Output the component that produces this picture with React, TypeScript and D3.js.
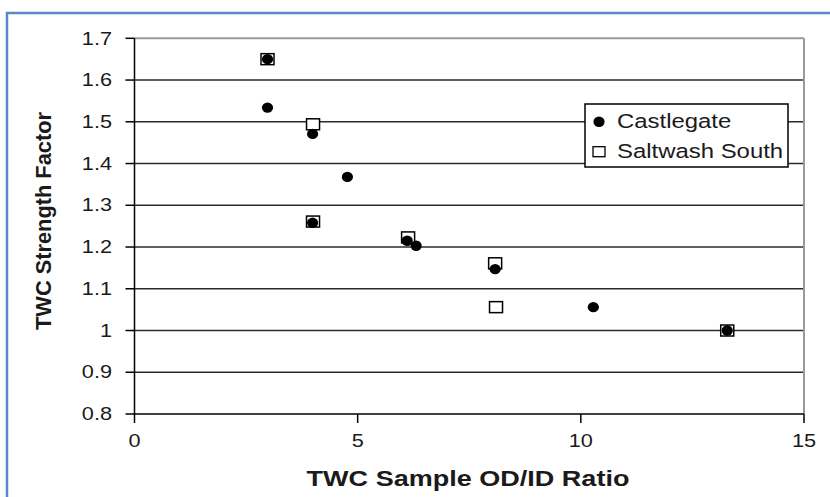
import React from "react";
import * as d3 from "d3";

const castleX = [2.98, 2.98, 3.99, 4.77, 3.99, 6.11, 6.31, 8.08, 10.28, 13.28];
const castleY = [1.65, 1.534, 1.471, 1.368, 1.258, 1.215, 1.203, 1.147, 1.056, 1.0];
const saltX = [2.98, 4.0, 4.0, 6.13, 8.08, 8.1, 13.28];
const saltY = [1.65, 1.494, 1.261, 1.223, 1.161, 1.056, 1.0];
const xTicks = [0, 5, 10, 15];
const yTicks = [0.8, 0.9, 1.0, 1.1, 1.2, 1.3, 1.4, 1.5, 1.6, 1.7];
const seriesNames = ["Castlegate", "Saltwash South"];

const W = 830;
const H = 497;
const FONT = "'Liberation Sans', Arial, sans-serif";
const SX = 1.24;

function SText({ x, y, anchor = "start", size, weight = "normal", rotate = 0, sx = SX, children, fill = "#1a1a1a" }: any) {
  return (
    <g transform={`translate(${x},${y}) scale(${sx},1) rotate(${rotate})`}>
      <text x={0} y={0} textAnchor={anchor} dominantBaseline="central" fontSize={size} fontWeight={weight} fontFamily={FONT} fill={fill}>
        {children}
      </text>
    </g>
  );
}

export default function App() {
  const x = d3.scaleLinear().domain([0, 15]).range([134.5, 804]);
  const y = d3.scaleLinear().domain([0.8, 1.7]).range([414, 38.3]);
  const sqW = 13;
  const sqH = 11;
  const rx = 5.6;
  const ry = 5.2;
  const fmt = (v: number) => (Math.abs(v - 1) < 1e-9 ? "1" : d3.format(".1f")(v));
  return (
    <svg width={W} height={H} style={{ position: "absolute", left: 0, top: 0, background: "#fff" }}>
      <rect x={0} y={0} width={W} height={H} fill="#fff" />
      <rect x={7} y={13} width={W + 20} height={H + 20} fill="none" stroke="#5a87c6" strokeWidth={2.5} />
      {/* gridlines */}
      {yTicks.filter((t) => t > 0.85 && t < 1.65).map((t) => (
        <line key={t} x1={x(0)} x2={x(15)} y1={y(t)} y2={y(t)} stroke="#2b2b2b" strokeWidth={1.4} />
      ))}
      {/* plot border top/right */}
      <line x1={x(0)} x2={x(15)} y1={y(1.7)} y2={y(1.7)} stroke="#9a9a9a" strokeWidth={2} />
      <line x1={x(15)} x2={x(15)} y1={y(1.7)} y2={y(0.8)} stroke="#9a9a9a" strokeWidth={2} />
      {/* axes */}
      <line x1={x(0)} x2={x(0)} y1={y(1.7)} y2={y(0.8)} stroke="#000" strokeWidth={1.5} />
      <line x1={x(0)} x2={x(15)} y1={y(0.8)} y2={y(0.8)} stroke="#000" strokeWidth={1.5} />
      {yTicks.map((t) => (
        <g key={"yt" + t}>
          <line x1={x(0) - 9} x2={x(0)} y1={y(t)} y2={y(t)} stroke="#000" strokeWidth={1.5} />
          <SText x={112} y={y(t)} anchor="end" size={17.5}>{fmt(t)}</SText>
        </g>
      ))}
      {xTicks.map((t) => (
        <g key={"xt" + t}>
          <line x1={x(t)} x2={x(t)} y1={y(0.8)} y2={y(0.8) + 9} stroke="#000" strokeWidth={1.5} />
          <SText x={x(t)} y={441} anchor="middle" size={17.5}>{t}</SText>
        </g>
      ))}
      <SText x={468} y={478} anchor="middle" size={21.8} weight="bold">TWC Sample OD/ID Ratio</SText>
      <SText x={43} y={221} anchor="middle" size={21.8} weight="bold" rotate={-90} sx={1}>TWC Strength Factor</SText>
      {/* Saltwash squares */}
      {saltX.map((v, i) => (
        <rect key={"s" + i} x={x(v) - sqW / 2} y={y(saltY[i]) - sqH / 2} width={sqW} height={sqH} fill="#fff" stroke="#000" strokeWidth={1.5} />
      ))}
      {/* Castlegate circles */}
      {castleX.map((v, i) => (
        <ellipse key={"c" + i} cx={x(v)} cy={y(castleY[i])} rx={rx} ry={ry} fill="#000" />
      ))}
      {/* legend */}
      <rect x={585} y={104} width={203} height={63} fill="#fff" stroke="#000" strokeWidth={1.5} />
      <ellipse cx={599} cy={121.7} rx={rx} ry={ry} fill="#000" />
      <rect x={599 - 6} y={151.7 - 5} width={12} height={10} fill="#fff" stroke="#000" strokeWidth={1.3} />
      <SText x={617} y={121.7} size={19.3}>{seriesNames[0]}</SText>
      <SText x={617} y={151.7} size={19.3}>{seriesNames[1]}</SText>
    </svg>
  );
}
